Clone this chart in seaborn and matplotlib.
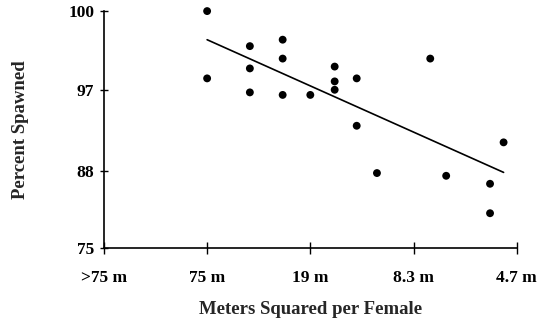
import numpy as np
import pandas as pd
import matplotlib
matplotlib.use("Agg")
import matplotlib.pyplot as plt
import seaborn as sns

# Daten: Weibchen je 75 m^2 und Prozent gelaicht
weibchen = [1, 1, 2, 2, 2, 3, 3, 3, 4, 5, 5, 5, 6, 6, 7, 10, 11, 14, 14, 15]
prozent = [100.0, 97.8, 99.4, 98.4, 96.8, 99.6, 98.9, 96.6, 96.6, 98.5,
           97.6, 97.0, 97.8, 93.7, 87.7, 98.9, 87.3, 86.1, 81.3, 91.8]

x_ticks = [0, 1, 4, 9, 16]
x_labels = [">75 m", "75 m", "19 m", "8.3 m", "4.7 m"]
y_ticks = [75, 88, 97, 100]


def arcsin_sqrt(p):
    return np.degrees(np.arcsin(np.sqrt(np.asarray(p, dtype=float) / 100.0)))


df = pd.DataFrame({
    "x": np.sqrt(weibchen),
    "y": arcsin_sqrt(prozent),
})

sns.set_style("white")
plt.rcParams["font.family"] = ["Liberation Serif", "DejaVu Serif"]
plt.rcParams["font.weight"] = "bold"

fig = plt.figure(figsize=(5.47, 3.26), dpi=100)
ax = fig.add_axes([0.190, 0.240, 0.7546, 0.726])

sns.regplot(data=df, x="x", y="y", ci=None, ax=ax,
            scatter_kws={"s": 32, "color": "black", "edgecolor": "none",
                         "alpha": 1, "clip_on": False},
            line_kws={"color": "black", "linewidth": 1.2})

ax.set_xlim(0, 4)
ax.set_ylim(60, 90)
ax.set_xticks(np.sqrt(x_ticks))
ax.set_xticklabels(x_labels)
ax.set_yticks(arcsin_sqrt(y_ticks))
ax.set_yticklabels([str(v) for v in y_ticks])

for s in ["top", "right"]:
    ax.spines[s].set_visible(False)
for s in ["left", "bottom"]:
    ax.spines[s].set_color("black")
    ax.spines[s].set_linewidth(1.2)

ax.tick_params(axis="x", bottom=True, direction="inout", length=8, width=1,
               colors="black", labelsize=12.5, pad=12)
ax.tick_params(axis="y", left=True, direction="inout", length=6, width=1,
               colors="black", labelsize=12.5, pad=4)
for lab in ax.get_xticklabels() + ax.get_yticklabels():
    lab.set_fontweight("bold")

ax.set_xlabel("Meters Squared per Female", fontsize=13.5, fontweight="bold", labelpad=11)
ax.set_ylabel("Percent Spawned", fontsize=13.5, fontweight="bold", labelpad=28)

fig.savefig("out.png", dpi=100)
